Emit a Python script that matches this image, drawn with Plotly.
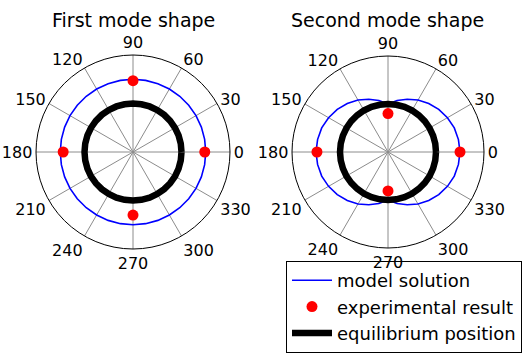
import plotly.graph_objects as go

# ---- data ----
theta_model = [0, 10, 20, 30, 40, 50, 60, 70, 80, 90, 100, 110, 120, 130, 140, 150, 160, 170,
               180, 190, 200, 210, 220, 230, 240, 250, 260, 270, 280, 290, 300, 310, 320, 330,
               340, 350, 360]
model_first = [1.5, 1.5, 1.5, 1.5, 1.5, 1.5, 1.5, 1.5, 1.5, 1.5, 1.5, 1.5, 1.5, 1.5, 1.5, 1.5,
               1.5, 1.5, 1.5, 1.5, 1.5, 1.5, 1.5, 1.5, 1.5, 1.5, 1.5, 1.5, 1.5, 1.5, 1.5, 1.5,
               1.5, 1.5, 1.5, 1.5, 1.5]
model_second = [1.50, 1.49, 1.47, 1.43, 1.38, 1.32, 1.25, 1.17, 1.09, 1.00, 1.09, 1.17, 1.25,
                1.32, 1.38, 1.43, 1.47, 1.49, 1.50, 1.49, 1.47, 1.43, 1.38, 1.32, 1.25, 1.17,
                1.09, 1.00, 1.09, 1.17, 1.25, 1.32, 1.38, 1.43, 1.47, 1.49, 1.50]
equilibrium = [1.0, 1.0, 1.0, 1.0, 1.0, 1.0, 1.0, 1.0, 1.0, 1.0, 1.0, 1.0, 1.0, 1.0, 1.0, 1.0,
               1.0, 1.0, 1.0, 1.0, 1.0, 1.0, 1.0, 1.0, 1.0, 1.0, 1.0, 1.0, 1.0, 1.0, 1.0, 1.0,
               1.0, 1.0, 1.0, 1.0, 1.0]
theta_exp = [0, 90, 180, 270]
exp_first = [1.48, 1.47, 1.44, 1.30]
exp_second = [1.50, 0.80, 1.48, 0.81]

tick_vals = [0, 30, 60, 90, 120, 150, 180, 210, 240, 270, 300, 330]
tick_text = ["0", "30", "60", "90", "120", "150", "180", "210", "240", "270", "300", "330"]
titles = ["First mode shape", "Second mode shape"]

FONT = "DejaVu Sans, Arial, sans-serif"

fig = go.Figure()
for i, (model, exp) in enumerate([(model_first, exp_first), (model_second, exp_second)]):
    sub = "polar" if i == 0 else "polar2"
    show = i == 0
    fig.add_trace(go.Scatterpolar(r=model, theta=theta_model, mode="lines",
                                  line=dict(color="#0000ff", width=1.6),
                                  name="model solution", legendgroup="m", showlegend=show,
                                  subplot=sub))
    fig.add_trace(go.Scatterpolar(r=exp, theta=theta_exp, mode="markers",
                                  marker=dict(color="#ff0000", size=11),
                                  name="experimental result", legendgroup="e", showlegend=show,
                                  subplot=sub))
    fig.add_trace(go.Scatterpolar(r=equilibrium, theta=theta_model, mode="lines",
                                  line=dict(color="black", width=6.5),
                                  name="equilibrium position", legendgroup="q", showlegend=show,
                                  subplot=sub))

def polar_cfg(xd):
    return dict(
        domain=dict(x=xd, y=[0.2966, 0.8446]),
        bgcolor="white",
        radialaxis=dict(visible=False, range=[0, 2], showgrid=False),
        angularaxis=dict(rotation=0, direction="counterclockwise",
                         tickmode="array", tickvals=tick_vals, ticktext=tick_text,
                         showline=True, linecolor="black", linewidth=1,
                         showgrid=True, gridcolor="#8c8c8c", gridwidth=1,
                         ticks="", tickfont=dict(size=16, color="black", family=FONT)),
    )

fig.update_layout(
    width=523, height=354,
    margin=dict(l=0, r=0, t=0, b=0, autoexpand=False),
    paper_bgcolor="white",
    font=dict(family=FONT, color="black"),
    polar=polar_cfg([36 / 523, 230 / 523]),
    polar2=polar_cfg([292 / 523, 484 / 523]),
    legend=dict(xref="container", yref="container",
                x=522 / 523, y=1 / 354, xanchor="right", yanchor="bottom",
                bordercolor="black", borderwidth=1, bgcolor="rgba(255,255,255,0)",
                font=dict(size=18, color="black", family=FONT),
                tracegroupgap=0, itemwidth=40),
    annotations=[
        dict(text=titles[0], x=133 / 523, y=1 - 20 / 354, xref="paper", yref="paper",
             showarrow=False, font=dict(size=19, color="black", family=FONT),
             xanchor="center", yanchor="middle"),
        dict(text=titles[1], x=387 / 523, y=1 - 20 / 354, xref="paper", yref="paper",
             showarrow=False, font=dict(size=19, color="black", family=FONT),
             xanchor="center", yanchor="middle"),
    ],
)

fig.write_html("out.html", config={"displayModeBar": False},
               post_script="document.body.style.margin='0';document.body.style.overflow='hidden';")
